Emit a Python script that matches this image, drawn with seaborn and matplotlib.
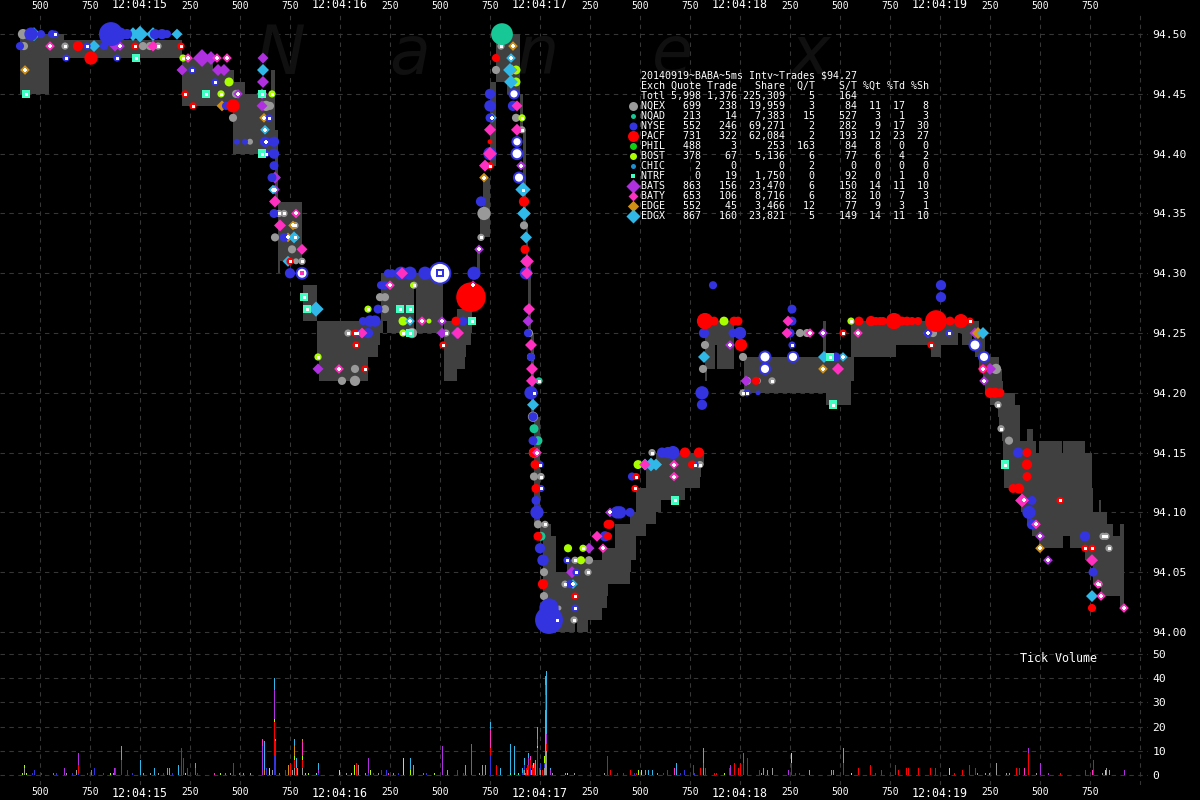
import numpy as np
import pandas as pd
import matplotlib
matplotlib.use("Agg")
import matplotlib.pyplot as plt
import seaborn as sns

# x values are 5ms intervals counted along the chart, prices in dollars, sizes in shares
band_x = [20, 49, 64, 182, 213, 233, 234, 245, 271, 275, 278, 280, 302, 303, 317, 319, 368, 378, 380, 381, 383, 387, 414, 416, 443, 444,
          457, 465, 466, 471, 472, 477, 480, 483, 490, 496, 507, 520, 523, 526, 528, 531, 534, 540, 543, 551, 553, 556, 567, 575, 577, 588,
          593, 602, 607, 608, 610, 615, 630, 631, 632, 636, 637, 646, 656, 661, 685, 700, 701, 704, 705, 707, 715, 717, 734, 744, 772, 823,
          826, 843, 851, 854, 896, 931, 941, 958, 962, 972, 975, 979, 983, 985, 990, 998, 999, 1001, 1002, 1003, 1004, 1006, 1015, 1020, 1021,
          1027, 1032, 1033, 1036, 1039, 1051, 1062, 1063, 1070, 1081, 1085, 1087, 1092, 1093, 1095, 1099, 1101, 1102, 1107, 1113, 1120, 1124]
band_hi = [94.50, 94.50, 94.495, 94.48, 94.47, 94.47, 94.46, 94.45, 94.47, 94.42, 94.36, 94.36, 94.36, 94.29, 94.26, 94.26, 94.26, 94.26, 94.26, 94.30, 94.30, 94.30, 94.30, 94.30, 94.25, 94.26,
           94.27, 94.27, 94.27, 94.27, 94.25, 94.32, 94.35, 94.38, 94.46, 94.50, 94.50, 94.45, 94.42, 94.34, 94.31, 94.25, 94.18, 94.09, 94.09, 94.08, 94.08, 94.05, 94.06, 94.06, 94.06, 94.06,
           94.06, 94.07, 94.07, 94.07, 94.07, 94.09, 94.10, 94.10, 94.10, 94.12, 94.12, 94.14, 94.15, 94.15, 94.15, 94.15, 94.15, 94.20, 94.26, 94.26, 94.26, 94.26, 94.26, 94.23, 94.23, 94.26,
           94.23, 94.23, 94.26, 94.26, 94.26, 94.26, 94.26, 94.26, 94.26, 94.26, 94.26, 94.25, 94.25, 94.23, 94.23, 94.23, 94.22, 94.22, 94.21, 94.20, 94.20, 94.20, 94.19, 94.16, 94.16,
           94.17, 94.17, 94.16, 94.15, 94.16, 94.16, 94.15, 94.16, 94.16, 94.16, 94.15, 94.15, 94.12, 94.10, 94.10, 94.11, 94.10, 94.10, 94.09, 94.08, 94.09, 94.08]
band_lo = [94.45, 94.48, 94.48, 94.44, 94.44, 94.40, 94.40, 94.40, 94.40, 94.36, 94.30, 94.31, 94.36, 94.26, 94.23, 94.21, 94.23, 94.24, 94.25, 94.25, 94.26, 94.25, 94.29, 94.25, 94.25, 94.21,
           94.22, 94.23, 94.24, 94.25, 94.25, 94.30, 94.33, 94.33, 94.39, 94.46, 94.45, 94.42, 94.34, 94.30, 94.25, 94.18, 94.09, 94.08, 94.01, 94.01, 94.00, 94.00, 94.00, 94.01, 94.00, 94.01,
           94.01, 94.02, 94.03, 94.04, 94.04, 94.04, 94.05, 94.06, 94.06, 94.08, 94.08, 94.09, 94.10, 94.11, 94.12, 94.13, 94.14, 94.20, 94.21, 94.22, 94.24, 94.22, 94.26, 94.20, 94.20, 94.20,
           94.19, 94.19, 94.21, 94.23, 94.24, 94.23, 94.24, 94.25, 94.24, 94.25, 94.23, 94.22, 94.21, 94.20, 94.19, 94.18, 94.17, 94.17, 94.16, 94.14, 94.12, 94.12, 94.12, 94.12, 94.10,
           94.09, 94.08, 94.08, 94.08, 94.07, 94.07, 94.07, 94.08, 94.07, 94.07, 94.06, 94.06, 94.06, 94.04, 94.04, 94.04, 94.03, 94.03, 94.03, 94.03, 94.02, 94.02]

nqex_x = [23, 24, 65, 113, 143, 150, 158, 236, 233, 266, 270, 250, 279, 284, 295, 295, 275, 292, 296, 302, 380, 385, 385, 348, 355, 342, 355, 412, 414, 446, 481, 484, 496, 501, 516, 522, 524, 529, 531, 533, 534, 534, 541, 537, 538, 545, 543, 544, 565, 544, 559, 557, 574, 575, 589, 588, 652, 700, 705, 743, 703, 767, 747, 758, 772, 743, 800, 807, 933, 996, 998, 1001, 1009, 1103, 1106, 1109, 1099, 523]
nqex_p = [94.50, 94.49, 94.49, 94.50, 94.49, 94.49, 94.49, 94.45, 94.43, 94.44, 94.44, 94.41, 94.35, 94.35, 94.34, 94.33, 94.33, 94.32, 94.31, 94.31, 94.28, 94.28, 94.27, 94.25, 94.22, 94.21, 94.21, 94.25, 94.29, 94.25, 94.33, 94.35, 94.47, 94.49, 94.43, 94.42, 94.34, 94.25, 94.23, 94.18, 94.15, 94.13, 94.13, 94.10, 94.09, 94.09, 94.06, 94.05, 94.04, 94.03, 94.02, 94.01, 94.01, 94.06, 94.06, 94.05, 94.15, 94.14, 94.24, 94.23, 94.22, 94.22, 94.21, 94.21, 94.21, 94.20, 94.25, 94.25, 94.25, 94.22, 94.19, 94.17, 94.16, 94.08, 94.08, 94.07, 94.04, 94.37]
nqex_s = [300, 150, 100, 150, 150, 150, 100, 150, 150, 300, 150, 50, 100, 100, 100, 100, 150, 150, 50, 100, 150, 150, 150, 100, 150, 150, 300, 300, 100, 100, 100, 600, 150, 100, 150, 100, 150, 150, 150, 300, 300, 150, 100, 300, 150, 100, 150, 150, 100, 150, 20, 100, 100, 100, 150, 100, 100, 100, 150, 150, 150, 100, 150, 50, 100, 100, 150, 150, 150, 300, 100, 100, 150, 100, 100, 100, 100, 100]

nqad_x = [502, 539, 534, 538, 541]
nqad_p = [94.50, 94.21, 94.17, 94.16, 94.08]
nqad_s = [2000, 100, 200, 200, 200]

nyse_x = [31, 41, 52, 55, 111, 120, 127, 155, 162, 167, 20, 87, 104, 66, 117, 192, 215, 226, 237, 245, 269, 265, 274, 266, 274, 274, 272, 274, 284, 290, 388, 392, 401, 410, 381, 385, 425, 378, 363, 370, 375, 357, 368, 463, 474, 481, 490, 490, 490, 490, 485, 513, 526, 526, 528, 528, 531, 531, 532, 534, 533, 533, 540, 536, 537, 540, 541, 543, 567, 576, 570, 575, 549, 549, 605, 617, 620, 630, 632, 662, 668, 673, 695, 713, 704, 702, 702, 733, 740, 792, 792, 790, 792, 747, 758, 836, 928, 949, 941, 941, 1018, 1032, 1029, 1032, 1085, 1093]
nyse_p = [94.50, 94.50, 94.50, 94.50, 94.50, 94.50, 94.50, 94.50, 94.50, 94.50, 94.49, 94.49, 94.49, 94.48, 94.48, 94.47, 94.46, 94.44, 94.41, 94.41, 94.43, 94.41, 94.41, 94.40, 94.40, 94.39, 94.38, 94.35, 94.33, 94.30, 94.30, 94.30, 94.30, 94.30, 94.29, 94.29, 94.30, 94.27, 94.26, 94.26, 94.26, 94.25, 94.25, 94.26, 94.30, 94.36, 94.45, 94.44, 94.43, 94.40, 94.39, 94.44, 94.31, 94.30, 94.27, 94.25, 94.23, 94.20, 94.21, 94.20, 94.18, 94.16, 94.14, 94.11, 94.10, 94.07, 94.12, 94.06, 94.06, 94.05, 94.04, 94.02, 94.01, 94.02, 94.08, 94.10, 94.10, 94.10, 94.13, 94.15, 94.15, 94.15, 94.14, 94.29, 94.25, 94.20, 94.19, 94.25, 94.25, 94.27, 94.26, 94.25, 94.24, 94.20, 94.20, 94.23, 94.25, 94.25, 94.29, 94.28, 94.15, 94.11, 94.10, 94.09, 94.08, 94.05]
nyse_s = [600, 150, 150, 100, 2500, 600, 300, 300, 300, 150, 150, 100, 150, 100, 100, 100, 100, 150, 50, 50, 100, 300, 300, 100, 300, 200, 200, 200, 200, 300, 150, 150, 600, 600, 150, 150, 600, 200, 150, 400, 400, 100, 300, 200, 600, 300, 300, 400, 200, 600, 150, 300, 200, 500, 150, 150, 150, 600, 150, 100, 200, 200, 100, 200, 600, 300, 100, 400, 100, 100, 150, 100, 3500, 1500, 300, 500, 500, 200, 150, 300, 400, 600, 100, 150, 300, 600, 300, 200, 500, 200, 200, 200, 100, 100, 20, 200, 150, 100, 300, 300, 300, 200, 600, 300, 300, 200]

# nyse prints drawn as a white disc with a blue edge
ring_x = [440, 302, 517, 517, 514, 519, 765, 765, 793, 975, 984]
ring_p = [94.30, 94.30, 94.41, 94.40, 94.45, 94.38, 94.23, 94.22, 94.23, 94.24, 94.23]
ring_s = [1400, 200, 100, 200, 100, 150, 200, 150, 150, 200, 150]

pacf_x = [78, 91, 135, 181, 185, 193, 233, 290, 365, 355, 356, 443, 456, 471, 496, 490, 490, 524, 525, 534, 535, 536, 538, 543, 575, 608, 608, 610, 635, 636, 692, 685, 699, 705, 714, 734, 738, 741, 756, 859, 871, 876, 880, 883, 894, 902, 907, 912, 918, 936, 950, 961, 970, 843, 931, 983, 990, 995, 1000, 1027, 1027, 1027, 1013, 1019, 1060, 1085, 1092, 1092, 1092]
pacf_p = [94.49, 94.48, 94.49, 94.49, 94.45, 94.44, 94.44, 94.31, 94.22, 94.25, 94.24, 94.24, 94.26, 94.28, 94.48, 94.41, 94.39, 94.36, 94.32, 94.15, 94.14, 94.12, 94.08, 94.04, 94.03, 94.08, 94.09, 94.09, 94.12, 94.13, 94.14, 94.15, 94.15, 94.26, 94.26, 94.26, 94.26, 94.24, 94.21, 94.26, 94.26, 94.26, 94.26, 94.26, 94.26, 94.26, 94.26, 94.26, 94.26, 94.26, 94.26, 94.26, 94.26, 94.25, 94.24, 94.22, 94.20, 94.20, 94.20, 94.15, 94.14, 94.13, 94.12, 94.12, 94.11, 94.07, 94.07, 94.06, 94.02]
pacf_s = [300, 600, 100, 100, 100, 100, 600, 100, 100, 100, 100, 100, 200, 4000, 150, 20, 100, 300, 200, 300, 200, 200, 200, 300, 100, 150, 200, 200, 100, 100, 150, 300, 300, 1000, 200, 200, 200, 500, 150, 200, 300, 150, 150, 150, 1000, 200, 200, 150, 150, 2000, 200, 700, 100, 100, 100, 200, 300, 300, 200, 200, 300, 200, 200, 300, 100, 100, 100, 150, 150]

bost_x = [183, 229, 221, 272, 413, 368, 318, 403, 429, 403, 516, 516, 522, 568, 583, 581, 638, 724, 851]
bost_p = [94.48, 94.46, 94.45, 94.45, 94.29, 94.27, 94.23, 94.26, 94.26, 94.25, 94.47, 94.46, 94.43, 94.07, 94.07, 94.06, 94.14, 94.26, 94.26]
bost_s = [100, 200, 100, 100, 50, 100, 100, 200, 20, 100, 200, 200, 100, 150, 100, 150, 200, 200, 100]

ntrf_x = [26, 136, 206, 262, 262, 304, 307, 400, 410, 410, 472, 675, 833, 830, 1005]
ntrf_p = [94.45, 94.48, 94.45, 94.45, 94.40, 94.28, 94.27, 94.27, 94.27, 94.25, 94.26, 94.11, 94.19, 94.23, 94.14]
ntrf_s = [100, 100, 100, 100, 100, 100, 100, 100, 100, 100, 100, 100, 100, 100, 100]

bats_x = [115, 120, 202, 211, 263, 218, 224, 182, 263, 238, 262, 262, 266, 275, 275, 318, 442, 442, 457, 473, 479, 521, 528, 572, 589, 610, 730, 823, 928, 746, 975, 990, 984, 1040, 1048]
bats_p = [94.49, 94.49, 94.48, 94.48, 94.48, 94.47, 94.47, 94.47, 94.46, 94.45, 94.45, 94.44, 94.41, 94.38, 94.37, 94.22, 94.26, 94.25, 94.25, 94.29, 94.32, 94.39, 94.26, 94.05, 94.07, 94.10, 94.24, 94.25, 94.25, 94.21, 94.25, 94.22, 94.21, 94.08, 94.06]
bats_s = [150, 100, 600, 300, 150, 200, 200, 150, 200, 100, 150, 150, 100, 200, 100, 150, 100, 150, 200, 100, 100, 100, 150, 200, 150, 100, 100, 100, 100, 150, 150, 200, 100, 100, 100]

baty_x = [50, 153, 188, 217, 227, 275, 296, 280, 302, 390, 339, 402, 422, 362, 458, 490, 490, 485, 517, 517, 527, 527, 529, 531, 532, 532, 537, 603, 597, 674, 674, 645, 788, 787, 810, 858, 838, 983, 1022, 1024, 1036, 1092, 1101, 1124, 1098]
baty_p = [94.49, 94.49, 94.48, 94.48, 94.48, 94.36, 94.35, 94.34, 94.32, 94.29, 94.22, 94.30, 94.26, 94.25, 94.25, 94.42, 94.40, 94.39, 94.44, 94.42, 94.31, 94.30, 94.27, 94.24, 94.22, 94.21, 94.15, 94.07, 94.08, 94.14, 94.13, 94.14, 94.26, 94.25, 94.25, 94.25, 94.22, 94.22, 94.11, 94.11, 94.09, 94.06, 94.03, 94.02, 94.04]
baty_s = [100, 150, 100, 100, 100, 200, 100, 200, 150, 100, 100, 200, 100, 150, 200, 200, 300, 200, 150, 200, 300, 200, 200, 200, 200, 200, 100, 100, 150, 100, 100, 150, 150, 150, 100, 100, 200, 100, 300, 100, 100, 200, 100, 100, 100]

edge_x = [25, 222, 264, 293, 288, 513, 512, 484, 823, 978, 1040]
edge_p = [94.47, 94.44, 94.43, 94.34, 94.33, 94.49, 94.47, 94.38, 94.22, 94.25, 94.07]
edge_s = [100, 150, 100, 100, 100, 100, 150, 100, 100, 200, 100]

edgx_x = [34, 133, 140, 153, 177, 94, 263, 265, 273, 294, 288, 316, 410, 511, 510, 511, 492, 523, 524, 526, 533, 573, 645, 651, 656, 704, 824, 843, 983, 1092]
edgx_p = [94.50, 94.50, 94.50, 94.50, 94.50, 94.49, 94.47, 94.42, 94.37, 94.33, 94.31, 94.27, 94.26, 94.48, 94.47, 94.46, 94.43, 94.37, 94.35, 94.33, 94.19, 94.04, 94.14, 94.14, 94.14, 94.23, 94.23, 94.23, 94.25, 94.03]
edgx_s = [300, 300, 500, 300, 150, 200, 200, 100, 100, 200, 150, 400, 100, 100, 300, 300, 100, 400, 300, 200, 200, 100, 200, 300, 200, 200, 200, 100, 200, 200]

# tick volume per interval and exchange
vol_nqex_x = [24, 66, 76, 113, 143, 150, 158, 230, 243, 250, 272, 292, 294, 297, 302, 346, 358, 365, 378, 447, 479, 482, 524, 527, 531, 535, 540, 544, 545, 546, 552, 565, 574, 604, 703, 761, 763, 767, 772, 809, 977, 989, 996, 1006, 1009, 1036, 1102, 1106, 1109]
vol_nqex_n = [3, 1, 2, 1, 1, 1, 1, 1, 1, 1, 2, 2, 3, 3, 3, 1, 4, 1, 1, 2, 1, 4, 2, 2, 2, 2, 2, 3, 27, 10, 1, 1, 1, 1, 3, 1, 3, 2, 3, 2, 1, 1, 5, 1, 1, 1, 1, 3, 2]
vol_nyse_x = [32, 34, 41, 56, 72, 78, 87, 94, 103, 121, 127, 132, 163, 172, 197, 266, 274, 275, 285, 318, 368, 373, 381, 386, 398, 426, 463, 490, 522, 524, 527, 530, 533, 537, 540, 544, 617, 623, 634, 663, 667, 680, 684, 694, 747, 759, 791, 795, 799, 1093]
vol_nyse_n = [1, 2, 1, 1, 1, 1, 1, 3, 1, 1, 2, 1, 1, 1, 1, 3, 8, 4, 2, 1, 1, 1, 2, 2, 1, 1, 1, 8, 1, 2, 2, 3, 3, 4, 3, 2, 1, 1, 1, 1, 2, 1, 2, 1, 4, 2, 5, 1, 1, 3]
vol_pacf_x = [78, 115, 121, 181, 183, 187, 233, 274, 275, 290, 294, 296, 302, 356, 457, 490, 496, 523, 526, 528, 530, 532, 534, 537, 539, 542, 545, 546, 607, 610, 630, 636, 693, 700, 705, 714, 716, 729, 734, 738, 740, 743, 747, 843, 858, 870, 875, 881, 895, 898, 906, 908, 918, 930, 935, 954, 962, 969, 975, 1016, 1019, 1028, 1060, 1085, 1093]
vol_pacf_n = [3, 3, 5, 11, 7, 3, 5, 14, 10, 5, 3, 3, 3, 5, 2, 3, 4, 2, 3, 4, 3, 4, 5, 7, 3, 2, 6, 3, 8, 2, 2, 1, 4, 3, 3, 1, 1, 3, 5, 3, 5, 5, 3, 5, 3, 4, 1, 2, 4, 2, 3, 3, 3, 3, 3, 1, 2, 4, 3, 3, 3, 9, 1, 2, 3]
vol_bost_x = [22, 24, 26, 110, 185, 220, 269, 274, 294, 302, 308, 339, 351, 354, 370, 403, 410, 434, 533, 537, 544, 567, 638, 641, 724, 791, 851, 949, 1105]
vol_bost_n = [1, 1, 1, 1, 1, 1, 3, 1, 2, 2, 1, 2, 1, 4, 2, 7, 2, 1, 2, 1, 3, 1, 2, 2, 1, 4, 1, 3, 2]
vol_ntrf_x = [305, 316, 510, 514, 518]
vol_ntrf_n = [1, 1, 1, 1, 1]
vol_bats_x = [64, 78, 114, 195, 262, 274, 318, 368, 442, 471, 528, 545, 546, 550, 730, 743, 788, 1028, 1040, 1048, 1124]
vol_bats_n = [3, 5, 3, 3, 12, 12, 1, 6, 12, 13, 3, 4, 4, 2, 4, 4, 2, 2, 5, 1, 2]
vol_baty_x = [53, 91, 214, 225, 239, 262, 279, 302, 388, 423, 490, 525, 530, 537, 674, 703, 1024, 1092]
vol_baty_n = [1, 2, 1, 1, 1, 3, 1, 6, 1, 1, 8, 1, 2, 3, 3, 2, 3, 2]
vol_edge_x = [264, 275, 288, 294, 302, 393, 485, 537, 545, 985]
vol_edge_n = [2, 1, 4, 4, 1, 1, 4, 1, 1, 1]
vol_edgx_x = [121, 140, 154, 167, 169, 178, 195, 264, 274, 294, 296, 318, 410, 413, 465, 490, 500, 510, 514, 522, 524, 528, 535, 537, 545, 546, 550, 645, 648, 652, 657, 676, 703, 831, 833, 843]
vol_edgx_n = [6, 6, 3, 3, 3, 4, 2, 12, 5, 3, 4, 3, 5, 4, 4, 3, 3, 12, 11, 2, 3, 2, 4, 4, 3, 26, 1, 2, 2, 2, 1, 5, 6, 2, 2, 6]

# summary table
exch_names = ["NQEX", "NQAD", "NYSE", "PACF", "PHIL", "BOST", "CHIC", "NTRF", "BATS", "BATY", "EDGE", "EDGX"]
exch_quote = ["699", "213", "552", "731", "488", "378", "2", "0", "863", "653", "552", "867"]
exch_trade = ["238", "14", "246", "322", "3", "67", "0", "19", "156", "106", "45", "160"]
exch_share = ["19,959", "7,383", "69,271", "62,084", "253", "5,136", "0", "1,750", "23,470", "8,716", "3,466", "23,821"]
exch_qt = ["3", "15", "2", "2", "163", "6", "2", "0", "6", "6", "12", "5"]
exch_st = ["84", "527", "282", "193", "84", "77", "0", "92", "150", "82", "77", "149"]
exch_pq = ["11", "3", "9", "12", "8", "6", "0", "0", "14", "10", "9", "14"]
exch_pt = ["17", "1", "17", "23", "0", "4", "0", "1", "11", "7", "3", "11"]
exch_ps = ["8", "3", "30", "27", "0", "2", "0", "0", "10", "3", "1", "10"]

grid_ticks = list(range(40, 1141, 50))
tick_cycle = ["500", "750", "", "250"]
second_labels = ["12:04:15", "12:04:16", "12:04:17", "12:04:18", "12:04:19"]
price_ticks = [94.00, 94.05, 94.10, 94.15, 94.20, 94.25, 94.30, 94.35, 94.40, 94.45, 94.50]
vol_ticks = [0, 10, 20, 30, 40, 50]

colors = {"NQEX": "#999999", "NQAD": "#17c896", "NYSE": "#3333e0", "PACF": "#ff0000", "PHIL": "#10d010", "BOST": "#a8ff00",
          "CHIC": "#1e90d0", "NTRF": "#40ffc0", "BATS": "#b030e0", "BATY": "#ff30c0", "EDGE": "#d09018", "EDGX": "#30b8e8"}
markers = {"NQEX": "o", "NQAD": "o", "NYSE": "o", "PACF": "o", "PHIL": "o", "BOST": "o", "CHIC": "o", "NTRF": "s",
           "BATS": "D", "BATY": "D", "EDGE": "D", "EDGX": "D"}
legend_px = {"NQEX": 9, "NQAD": 5, "NYSE": 8, "PACF": 11, "PHIL": 7, "BOST": 7, "CHIC": 5, "NTRF": 5, "BATS": 10, "BATY": 7, "EDGE": 8, "EDGX": 10}

sns.set_theme(style="dark", rc={"figure.facecolor": "black", "axes.facecolor": "black", "axes.edgecolor": "black",
                                "axes.axisbelow": True, "text.color": "white"})
plt.rcParams["font.family"] = ["DejaVu Sans Mono"]

GRID = "#363636"
DASH = (0, (4, 4))
PX = 72 / 100

fig = plt.figure(figsize=(12, 8), dpi=100)
ax = fig.add_axes([0, 1 - 642 / 800, 1148 / 1200, (642 - 12) / 800])
ax_v = fig.add_axes([0, 1 - 785 / 800, 1148 / 1200, (785 - 644) / 800])
top = fig.add_axes([0, 0, 1, 1], facecolor="none")
top.set_xlim(0, 1200)
top.set_ylim(800, 0)
top.axis("off")


def dot_px(shares):
    return 3 + 0.42 * np.sqrt(np.asarray(shares, dtype=float))


def draw_trades(name, xs, ps, shares):
    m = markers[name]
    d = dot_px(shares)
    factor = {"o": 1.0, "s": 1.2, "D": 0.95}[m]
    sns.scatterplot(x=xs, y=ps, s=(d * factor * PX) ** 2, color=colors[name], marker=m, linewidth=0, ax=ax, zorder=3)
    # round lots get a small white centre
    sel = np.asarray(shares) == 100
    if sel.any():
        cx = np.asarray(xs)[sel]
        cy = np.asarray(ps)[sel]
        if m == "D":
            ax.scatter(cx, cy, s=(5 * PX) ** 2, marker="P", color="white", linewidth=0, zorder=4)
        else:
            ax.scatter(cx, cy, s=(3 * PX) ** 2, marker="s", color="white", linewidth=0, zorder=4)


# price panel
ax.fill_between(band_x, band_hi, band_lo, step="post", color="#404040", linewidth=0, zorder=2)
draw_trades("NQEX", nqex_x, nqex_p, nqex_s)
draw_trades("NQAD", nqad_x, nqad_p, nqad_s)
draw_trades("BATS", bats_x, bats_p, bats_s)
draw_trades("BOST", bost_x, bost_p, bost_s)
draw_trades("EDGE", edge_x, edge_p, edge_s)
draw_trades("EDGX", edgx_x, edgx_p, edgx_s)
draw_trades("NYSE", nyse_x, nyse_p, nyse_s)
draw_trades("PACF", pacf_x, pacf_p, pacf_s)
draw_trades("BATY", baty_x, baty_p, baty_s)
draw_trades("NTRF", ntrf_x, ntrf_p, ntrf_s)

ring_d = dot_px(ring_s)
ax.scatter(ring_x, ring_p, s=((ring_d + 4) * PX) ** 2, color=colors["NYSE"], linewidth=0, zorder=5)
ax.scatter(ring_x, ring_p, s=(ring_d * PX) ** 2, color="white", linewidth=0, zorder=6)
ax.scatter(ring_x[:2], ring_p[:2], s=(ring_d[:2] * 0.45 * PX) ** 2, marker="s", color=[colors["NYSE"], colors["BATY"]], linewidth=0, zorder=7)
ax.scatter(ring_x[:1], ring_p[:1], s=(ring_d[:1] * 0.22 * PX) ** 2, marker="s", color="white", linewidth=0, zorder=8)

ax.set_xlim(0, 1148)
ax.set_ylim(93.9916, 94.5185)
ax.xaxis.tick_top()
ax.yaxis.tick_right()
ax.set_yticks(price_ticks, [f"{p:.2f}" for p in price_ticks])

# volume panel, seaborn stacks the first hue on top so the order is reversed
vol_rows = []
vol_sets = {"NQEX": (vol_nqex_x, vol_nqex_n), "NYSE": (vol_nyse_x, vol_nyse_n), "PACF": (vol_pacf_x, vol_pacf_n),
            "BOST": (vol_bost_x, vol_bost_n), "NTRF": (vol_ntrf_x, vol_ntrf_n), "BATS": (vol_bats_x, vol_bats_n),
            "BATY": (vol_baty_x, vol_baty_n), "EDGE": (vol_edge_x, vol_edge_n), "EDGX": (vol_edgx_x, vol_edgx_n)}
for name, (vx, vn) in vol_sets.items():
    vol_rows.append(pd.DataFrame({"t": vx, "n": vn, "exch": name}))
vol_df = pd.concat(vol_rows, ignore_index=True)
sns.histplot(data=vol_df, x="t", weights="n", hue="exch", hue_order=[e for e in exch_names[::-1] if e in vol_sets],
             multiple="stack", binwidth=1, binrange=(0, 1148), palette=colors, alpha=1, linewidth=0, antialiased=False,
             legend=False, ax=ax_v, zorder=3)
ax_v.set_xlim(0, 1148)
ax_v.set_ylim(-4.13, 54.1)
ax_v.yaxis.tick_right()
ax_v.set_yticks(vol_ticks, [str(v) for v in vol_ticks])
ax_v.set_xlabel("")
ax_v.set_ylabel("")

# shared tick styling
labels = []
sec = iter(second_labels)
for i, pos in enumerate(grid_ticks):
    lab = tick_cycle[i % 4]
    labels.append(lab if lab else next(sec, ""))
for a in (ax, ax_v):
    a.set_xticks(grid_ticks, labels)
    a.grid(True, color=GRID, linestyle=DASH, linewidth=0.8)
    a.tick_params(axis="x", length=0, labelsize=7, colors="white")
    a.tick_params(axis="y", length=0, pad=3, labelsize=8.2, colors="white")
    for t in a.get_xticklabels():
        if ":" in t.get_text():
            t.set_fontsize(8.4)
    for s in a.spines.values():
        s.set_visible(False)
ax.tick_params(axis="x", pad=1)
ax_v.tick_params(axis="x", pad=1.5)

# faint watermark
for letter, xpos in zip("Nanex", [280, 410, 538, 672, 810]):
    ax.text(xpos, 94.467, letter, fontsize=48, style="italic", family="DejaVu Sans", color="#101010", ha="center", va="baseline", zorder=1)

top.text(1020, 659, "Tick Volume", fontsize=8.4, color="white", va="center")

# summary table drawn over the price panel
table = ["20140919~BABA~5ms Intv~Trades $94.27",
         f"{'Exch':<4} {'Quote':>5} {'Trade':>5} {'Share':>7} {'Q/T':>4} {'S/T':>6} {'%Qt':>3} {'%Td':>3} {'%Sh':>3}",
         f"{'Totl':<4} {'5,998':>5} {'1,376':>5} {'225,309':>7} {'5':>4} {'164':>6}"]
for i, name in enumerate(exch_names):
    table.append(f"{name:<4} {exch_quote[i]:>5} {exch_trade[i]:>5} {exch_share[i]:>7} {exch_qt[i]:>4} {exch_st[i]:>6} {exch_pq[i]:>3} {exch_pt[i]:>3} {exch_ps[i]:>3}")
for i, line in enumerate(table):
    top.text(641, 75.7 + 10 * i, line, fontsize=7.2, color="white", va="center", ha="left")
for i, name in enumerate(exch_names):
    top.scatter([633], [105.7 + 10 * i], s=(legend_px[name] * PX) ** 2, color=colors[name], marker=markers[name], linewidth=0)

fig.savefig("out.png", dpi=100, facecolor="black")
